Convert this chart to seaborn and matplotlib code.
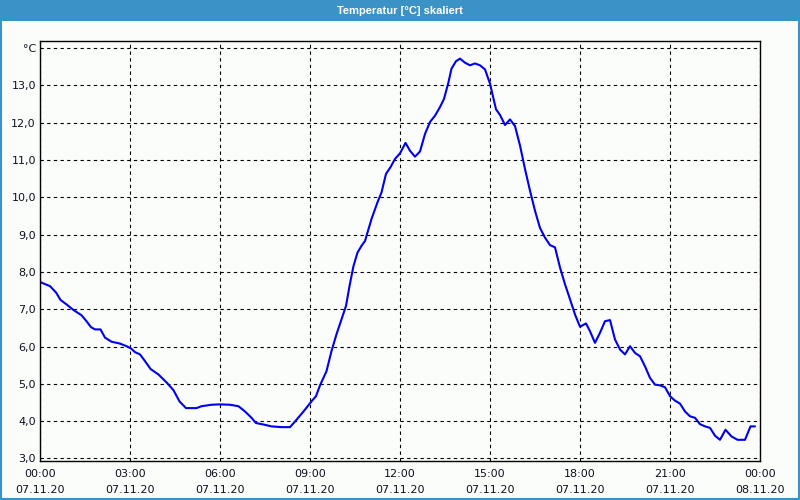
import matplotlib
matplotlib.use("Agg")
import matplotlib.pyplot as plt
import seaborn as sns
import pandas as pd
from matplotlib.patches import Rectangle
from matplotlib.lines import Line2D

# minutes since 07.11.20 00:00
minutes = [0, 20, 32, 41, 53, 67, 83, 93, 102, 110, 121, 130, 143, 160, 173, 182, 190, 200,
           210, 221, 237, 253, 267, 279, 292, 313, 323, 343, 360, 380, 397, 410, 423, 432,
           447, 463, 483, 500, 510, 527, 543, 552, 560, 573, 583, 593, 603, 612, 619, 627,
           635, 643, 650, 657, 663, 675, 683, 692, 701, 710, 720, 731, 740, 750, 760, 770,
           780, 790, 800, 808, 817, 823, 832, 840, 850, 860, 870, 880, 890, 900, 907, 912,
           920, 930, 940, 950, 960, 970, 980, 990, 1000, 1010, 1020, 1030, 1040, 1050, 1060,
           1070, 1080, 1092, 1100, 1110, 1120, 1130, 1140, 1150, 1160, 1170, 1180, 1190, 1200,
           1210, 1220, 1230, 1240, 1250, 1260, 1270, 1280, 1290, 1300, 1310, 1320, 1330, 1340,
           1350, 1360, 1371, 1383, 1395, 1410, 1421, 1430]
temperature = [7.73, 7.62, 7.45, 7.25, 7.13, 6.98, 6.84, 6.68, 6.52, 6.46, 6.46, 6.24, 6.13,
               6.08, 6.01, 5.95, 5.85, 5.79, 5.61, 5.40, 5.25, 5.04, 4.83, 4.53, 4.35, 4.35,
               4.40, 4.44, 4.45, 4.44, 4.40, 4.26, 4.09, 3.95, 3.91, 3.86, 3.84, 3.84, 3.99,
               4.26, 4.53, 4.67, 4.96, 5.34, 5.88, 6.33, 6.73, 7.09, 7.62, 8.16, 8.52, 8.70,
               8.83, 9.15, 9.42, 9.87, 10.13, 10.63, 10.81, 11.03, 11.18, 11.46, 11.25, 11.09,
               11.23, 11.70, 12.02, 12.19, 12.42, 12.64, 13.09, 13.45, 13.65, 13.72, 13.61,
               13.54, 13.59, 13.54, 13.43, 13.05, 12.64, 12.36, 12.21, 11.94, 12.09, 11.91,
               11.39, 10.76, 10.18, 9.64, 9.18, 8.92, 8.72, 8.66, 8.12, 7.67, 7.27, 6.86, 6.53,
               6.62, 6.41, 6.10, 6.37, 6.68, 6.71, 6.19, 5.92, 5.79, 6.01, 5.83, 5.74, 5.47,
               5.16, 4.98, 4.96, 4.91, 4.67, 4.55, 4.47, 4.26, 4.13, 4.09, 3.92, 3.86, 3.82,
               3.61, 3.50, 3.77, 3.59, 3.50, 3.50, 3.86, 3.86]

x_tick_hours = [0, 3, 6, 9, 12, 15, 18, 21, 24]
x_tick_labels = ["00:00\n07.11.20", "03:00\n07.11.20", "06:00\n07.11.20", "09:00\n07.11.20",
                 "12:00\n07.11.20", "15:00\n07.11.20", "18:00\n07.11.20", "21:00\n07.11.20",
                 "00:00\n08.11.20"]
y_ticks = [3, 4, 5, 6, 7, 8, 9, 10, 11, 12, 13, 14]
y_tick_labels = ["3,0", "4,0", "5,0", "6,0", "7,0", "8,0", "9,0", "10,0", "11,0", "12,0", "13,0", "°C"]
title = "Temperatur [°C] skaliert"

sns.set_style("white")
plt.rcParams['font.family'] = ['DejaVu Sans']

df = pd.DataFrame({"hours": [m / 60 for m in minutes], "temp": temperature})

bg = "#fafdfa"
blue_bar = "#3b92c5"
txt = "#101020"
fig = plt.figure(figsize=(8, 5), dpi=100, facecolor=bg)
ax = fig.add_axes([40 / 800, 39.3 / 500, 720 / 800, 420 / 500])
ax.set_facecolor(bg)

sns.lineplot(data=df, x="hours", y="temp", ax=ax, color="#0000ee", linewidth=1.5)

ax.set_xlim(0, 24)
ax.set_ylim(2.94, 14.2)
ax.set_xticks(x_tick_hours)
ax.set_xticklabels(x_tick_labels, fontsize=8, linespacing=1.75, color=txt)
ax.set_xticks(range(0, 25), minor=True)
ax.set_yticks(y_ticks)
ax.set_yticklabels(y_tick_labels, fontsize=8, color=txt)
ax.tick_params(axis="x", which="both", direction="out", length=3, width=0.8, color="black", pad=3)
ax.tick_params(axis="y", length=0, pad=3)
ax.grid(True, which="major", color="black", linestyle=(0, (3, 3)), linewidth=0.8)
ax.set_xlabel("")
ax.set_ylabel("")
for s in ax.spines.values():
    s.set_visible(True)
    s.set_color("black")
    s.set_linewidth(1.0)

# window chrome: title bar and blue frame
fig.patches.append(Rectangle((0, 1 - 21 / 500), 1, 21 / 500, transform=fig.transFigure,
                             facecolor=blue_bar, edgecolor="none", zorder=0))
fig.text(0.5, 1 - 10.5 / 500, title, ha="center", va="center", color="white",
         fontsize=8, fontweight="bold", family=["Liberation Sans", "DejaVu Sans"])
fig.lines.append(Line2D([1 / 800, 1 / 800], [0, 1], transform=fig.transFigure, color=blue_bar, linewidth=1.5))
fig.lines.append(Line2D([799 / 800, 799 / 800], [0, 1], transform=fig.transFigure, color=blue_bar, linewidth=1.5))
fig.lines.append(Line2D([0, 1], [1 / 500, 1 / 500], transform=fig.transFigure, color=blue_bar, linewidth=1.5))

fig.savefig("out.png", dpi=100, facecolor=bg)
